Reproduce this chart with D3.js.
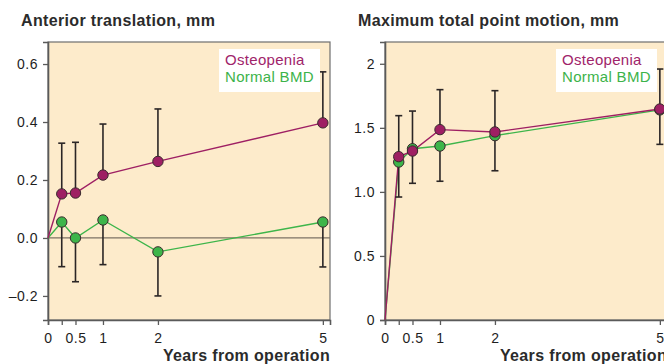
<!DOCTYPE html>
<html>
<head>
<meta charset="utf-8">
<script src="https://cdn.jsdelivr.net/npm/d3@7"></script>
<style>
  body { margin: 0; background: #fff; }
  svg text { font-family: "Liberation Sans", Arial, sans-serif; }
</style>
</head>
<body>
<div id="chart"></div>
<script>
// Data
const years = [0, 0.25, 0.5, 1, 2, 5];
const xTickLabels = ["0", "", "0.5", "1", "2", "5"];

const atOsteo = [0, 0.152, 0.155, 0.217, 0.264, 0.397];
const atOsteoUpper = [null, 0.327, 0.330, 0.393, 0.445, 0.573];
const atNormal = [0, 0.055, 0.0, 0.062, -0.048, 0.055];
const atNormalLower = [null, -0.099, -0.151, -0.092, -0.200, -0.100];
const atTicks = [-0.2, 0, 0.2, 0.4, 0.6];
const atTickLabels = ["\u20130.2", "0.0", "0.2", "0.4", "0.6"];

const mtpmOsteo = [0, 1.275, 1.319, 1.486, 1.468, 1.647];
const mtpmOsteoUpper = [null, 1.595, 1.631, 1.798, 1.790, 1.959];
const mtpmNormal = [0, 1.233, 1.337, 1.358, 1.439, 1.640];
const mtpmNormalLower = [null, 0.960, 1.067, 1.083, 1.165, 1.371];
const mtpmTicks = [0, 0.5, 1, 1.5, 2];
const mtpmTickLabels = ["0", "0.5", "1.0", "1.5", "2"];

const seriesNames = ["Osteopenia", "Normal BMD"];

let width = 664, height = 364;
const purple = "#9e1f63", green = "#3db54a";
const bg = "#fdebcb", axisColor = "#5a5a5a", barColor = "#2b2626";

let svg = d3.select("#chart")
  .append("svg")
  .attr("width", width)
  .attr("height", height);

function drawPanel(o) {
  let top = 42, bottom = 320;
  let x = d3.scaleLinear().domain([0, 5.13]).range([o.left, o.right]);
  let y = d3.scaleLinear().domain(o.yDomain).range([bottom, top]);

  let g = svg.append("g");

  // plot background with frame
  g.append("rect")
    .attr("x", o.left).attr("y", top)
    .attr("width", o.right - o.left).attr("height", bottom - top)
    .attr("fill", bg)
    .attr("stroke", "#6e6e6e")
    .attr("stroke-width", 1.2);

  if (o.zeroLine) {
    g.append("line")
      .attr("x1", o.left).attr("x2", o.right)
      .attr("y1", y(0)).attr("y2", y(0))
      .attr("stroke", "#7d7264")
      .attr("stroke-width", 1.3);
  }

  // axes
  let xAxis = g.append("g")
    .attr("transform", `translate(0,${bottom})`)
    .call(d3.axisBottom(x).tickValues(years).tickSize(5).tickPadding(8)
      .tickFormat((d, i) => xTickLabels[i]));

  let yAxis = g.append("g")
    .attr("transform", `translate(${o.left},0)`)
    .call(d3.axisLeft(y).tickValues(o.ticks).tickSize(5).tickPadding(5)
      .tickFormat((d, i) => o.tickLabels[i]));

  [xAxis, yAxis].forEach(a => {
    a.attr("font-size", 14)
     .attr("font-family", "'Liberation Sans', Arial, sans-serif");
    a.select(".domain").attr("stroke", axisColor).attr("stroke-width", 1.6);
    a.selectAll(".tick line").attr("stroke", axisColor).attr("stroke-width", 1.3);
    a.selectAll(".tick text")
      .attr("fill", "#1e1e1e")
      .attr("font-size", 14)
      .attr("letter-spacing", "0.5px");
  });

  // series: normal first, osteopenia on top
  const series = [
    { vals: o.normal, err: o.normalErr, color: green },
    { vals: o.osteo, err: o.osteoErr, color: purple }
  ];

  let line = d3.line()
    .x((d, i) => x(years[i]))
    .y(d => y(d));

  series.forEach(s => {
    g.append("path")
      .datum(s.vals)
      .attr("d", line)
      .attr("fill", "none")
      .attr("stroke", s.color)
      .attr("stroke-width", 1.4);
  });

  series.forEach(s => {
    s.err.forEach((e, i) => {
      if (e === null) return;
      g.append("line")
        .attr("x1", x(years[i])).attr("x2", x(years[i]))
        .attr("y1", y(s.vals[i])).attr("y2", y(e))
        .attr("stroke", barColor).attr("stroke-width", 1.6);
      g.append("line")
        .attr("x1", x(years[i]) - 3.5).attr("x2", x(years[i]) + 3.5)
        .attr("y1", y(e)).attr("y2", y(e))
        .attr("stroke", barColor).attr("stroke-width", 1.6);
    });
  });

  series.forEach(s => {
    g.selectAll(null)
      .data(s.vals.slice(1))
      .enter()
      .append("circle")
      .attr("cx", (d, i) => x(years[i + 1]))
      .attr("cy", d => y(d))
      .attr("r", 5.2)
      .attr("fill", s.color)
      .attr("stroke", "#3a2a2e")
      .attr("stroke-width", 1);
  });

  // legend
  let lg = g.append("g").attr("transform", `translate(${o.left + 171},49)`);
  lg.append("rect")
    .attr("width", 101).attr("height", 43)
    .attr("fill", "#fff");
  seriesNames.forEach((name, i) => {
    lg.append("text")
      .attr("x", 6)
      .attr("y", 16 + i * 17)
      .attr("fill", i === 0 ? "#a0246a" : "#3cb34a")
      .style("font-size", "15px")
      .style("letter-spacing", "0.3px")
      .text(name);
  });

  // title
  g.append("text")
    .attr("x", o.left - 27)
    .attr("y", 26)
    .attr("fill", "#2b2b2b")
    .style("font-size", "16px")
    .style("font-weight", "bold")
    .style("letter-spacing", "0.35px")
    .text(o.title);

  // x label
  g.append("text")
    .attr("x", o.right)
    .attr("y", 361)
    .attr("text-anchor", "end")
    .attr("fill", "#2b2b2b")
    .style("font-size", "16px")
    .style("font-weight", "bold")
    .style("letter-spacing", "0.35px")
    .text("Years from operation");
}

drawPanel({
  left: 48, right: 330,
  yDomain: [-0.283, 0.676],
  ticks: atTicks, tickLabels: atTickLabels,
  osteo: atOsteo, osteoErr: atOsteoUpper,
  normal: atNormal, normalErr: atNormalLower,
  zeroLine: true,
  title: "Anterior translation, mm"
});

drawPanel({
  left: 385, right: 667,
  yDomain: [0, 2.17],
  ticks: mtpmTicks, tickLabels: mtpmTickLabels,
  osteo: mtpmOsteo, osteoErr: mtpmOsteoUpper,
  normal: mtpmNormal, normalErr: mtpmNormalLower,
  zeroLine: false,
  title: "Maximum total point motion, mm"
});
</script>
</body>
</html>
